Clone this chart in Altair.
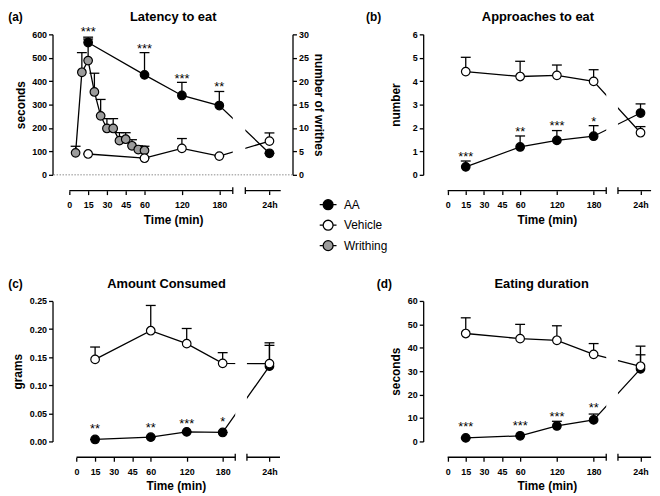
import altair as alt
import pandas as pd

FONT = "Liberation Sans"
H = 142          # plot height of every panel
AX_OFF = 16      # offset of the broken time axis below the plot
TITLE_Y = -17.5  # vertical position of panel titles relative to plot top

# ---------------- data ----------------
H24 = 260                                   # position of the "24h" sample on the broken axis
times = [15, 60, 120, 180, H24]
star_times = [15, 60, 120, 180]
x_tick_values = [0, 15, 30, 45, 60, 120, 180, H24]
x_tick_24h_label = "24h"
seg_start = [0, 221.5]
seg_end = [201.5, 278]
breaks = [201.5, 221.5]
groups = ["AA", "Vehicle", "Writhing"]
group_fill = ["black", "white", "#9c9c9c"]

# (a) Latency to eat (seconds) + writhes
lat_aa = [565, 427, 339, 296, 92]
lat_aa_up = [588, 522, 395, 356, 92]
lat_veh = [89, 71, 113, 80, 144]
lat_veh_up = [89, 71, 155, 80, 179]
lat_stars = ["***", "***", "***", "**"]
lat_star_y = [621, 551, 421, 388]
writhe_time = [5, 10, 15, 20, 25, 30, 35, 40, 45, 50, 55, 60]
writhe_mean = [4.7, 21.9, 24.4, 17.7, 12.6, 9.9, 9.9, 7.3, 7.6, 6.2, 5.4, 5.2]
writhe_up = [6.1, 26.1, 29.0, 21.7, 16.1, 12.0, 12.0, 9.0, 9.0, 7.5, 6.2, 6.1]

# (b) Approaches to eat (number)
app_aa = [0.34, 1.19, 1.47, 1.65, 2.64]
app_aa_up = [0.59, 1.66, 1.89, 2.10, 3.03]
app_veh = [4.41, 4.20, 4.25, 3.99, 1.80]
app_veh_up = [5.02, 4.85, 4.69, 4.49, 2.06]
app_stars = ["***", "**", "***", "*"]
app_star_y = [0.9, 1.96, 2.2, 2.38]

# (c) Amount consumed (grams)
amt_aa = [0.0035, 0.0076, 0.017, 0.016, 0.134]
amt_aa_up = [0.0035, 0.0076, 0.017, 0.016, 0.171]
amt_veh = [0.146, 0.197, 0.174, 0.139, 0.1385]
amt_veh_up = [0.168, 0.242, 0.201, 0.158, 0.1755]
amt_stars = ["**", "**", "***", "*"]
amt_star_y = [0.027, 0.030, 0.037, 0.039]

# (d) Eating duration (seconds)
dur_aa = [1.5, 2.4, 6.6, 9.2, 31.0]
dur_aa_up = [1.5, 2.4, 8.6, 11.7, 37.0]
dur_veh = [46.1, 43.9, 43.2, 37.2, 32.1]
dur_veh_up = [52.8, 50.0, 49.4, 41.8, 40.7]
dur_stars = ["***", "***", "***", "**"]
dur_star_y = [7.6, 7.9, 11.8, 15.4]

LEGEND_SYMBOL = ("M-0.85,0L-0.5,0M0.5,0L0.85,0"
                 "M-0.5,0A0.5,0.5,0,1,0,0.5,0A0.5,0.5,0,1,0,-0.5,0Z")


def yax(orient, vals, fmt, title, tpad):
    return alt.Axis(orient=orient, values=vals, format=fmt, title=title, grid=False,
                    domainColor="black", domainWidth=1.3, tickColor="black",
                    tickWidth=1.3, tickSize=4, labelFont=FONT, labelFontSize=9,
                    labelFontWeight="bold", labelColor="black", labelPadding=2,
                    titleFont=FONT, titleFontSize=12, titleFontWeight="bold",
                    titleColor="black", titlePadding=tpad)


def build(letter, letter_x, title, title_x, ylab, ytpad, ydom, yvals, yfmt, W, xr, xtitle_x,
          aa, aa_up, veh, veh_up, stars, star_y, writhe=False, legend=None):
    xs = alt.Scale(domain=[0, 60, 180, H24], range=xr, nice=False, zero=False)
    xaxis = alt.Axis(values=x_tick_values,
                     labelExpr=f"datum.value == {H24} ? '{x_tick_24h_label}' : datum.label",
                     domain=False, grid=False, offset=AX_OFF, ticks=True,
                     tickColor="black", tickWidth=1.3, tickSize=4,
                     labelFont=FONT, labelFontSize=9, labelFontWeight="bold",
                     labelColor="black", labelPadding=6, labelOverlap=False,
                     labelFlush=False, title="Time (min)", titleFont=FONT,
                     titleFontSize=12, titleFontWeight="bold", titleColor="black",
                     titlePadding=5, titleX=xtitle_x)
    ys = alt.Scale(domain=ydom, nice=False, zero=False)
    yaxis = yax("left", yvals, yfmt, ylab, ytpad)

    def X(f):
        return alt.X(f, type="quantitative", scale=xs, axis=xaxis)

    def Y(f):
        return alt.Y(f, type="quantitative", scale=ys, axis=yaxis)

    fill = alt.Fill("group:N", scale=alt.Scale(domain=groups, range=group_fill),
                    legend=legend)
    df = pd.DataFrame({"time": times * 2, "group": ["AA"] * 5 + ["Vehicle"] * 5,
                       "mean": aa + veh, "upper": aa_up + veh_up})

    lines = alt.Chart(df).mark_line(color="black", strokeWidth=1.3).encode(
        x=X("time"), y=Y("mean"), detail="group:N")
    gap = alt.Chart(pd.DataFrame({"b1": [breaks[0]], "b2": [breaks[1]]})).mark_rect(
        color="white", opacity=1).encode(x=X("b1"), x2="b2", y=alt.value(0), y2=alt.value(H))
    err = alt.Chart(df).mark_rule(color="black", strokeWidth=1.3).encode(
        x=X("time"), y=Y("mean"), y2="upper")
    cap = alt.Chart(df).mark_tick(color="black", orient="horizontal", size=10,
                                  thickness=1.3, opacity=1).encode(x=X("time"), y=Y("upper"))
    pts = alt.Chart(df).mark_circle(size=75, stroke="black", strokeWidth=1.2,
                                    opacity=1).encode(x=X("time"), y=Y("mean"), fill=fill)
    sdf = pd.DataFrame({"time": star_times, "s": stars, "y": star_y})
    st = alt.Chart(sdf).mark_text(fontSize=13, font=FONT, baseline="alphabetic", dy=7,
                                  color="black").encode(x=X("time"), y=Y("y"), text="s:N")
    seg = alt.Chart(pd.DataFrame({"s": seg_start, "e": seg_end})).mark_rule(
        color="black", strokeWidth=1.3).encode(x=X("s"), x2="e", y=alt.value(H + AX_OFF))
    brk = alt.Chart(pd.DataFrame({"b": breaks})).mark_rule(
        color="black", strokeWidth=1.3).encode(
        x=X("b"), y=alt.value(H + AX_OFF - 3.5), y2=alt.value(H + AX_OFF + 3.5))
    ttl = alt.Chart(pd.DataFrame({"t": [title]})).mark_text(
        font=FONT, fontSize=13, fontWeight="bold", align="center", baseline="middle",
        color="black").encode(x=alt.value(title_x), y=alt.value(TITLE_Y), text="t:N")
    let = alt.Chart(pd.DataFrame({"t": [letter]})).mark_text(
        font=FONT, fontSize=12, fontWeight="bold", align="left", baseline="middle",
        color="black").encode(x=alt.value(letter_x), y=alt.value(TITLE_Y), text="t:N")

    main_layers = [lines, gap]
    if writhe:
        zero = alt.Chart(pd.DataFrame({"z": [0]})).mark_rule(
            color="#8c8c8c", strokeDash=[1.5, 1.5], strokeWidth=1).encode(y=Y("z"))
        main_layers.append(zero)
    main_layers += [err, cap, pts, st, seg, brk, ttl, let]
    main = alt.layer(*main_layers)

    if writhe:
        wys = alt.Scale(domain=[0, 30], nice=False, zero=False)
        wax = yax("right", [0, 5, 10, 15, 20, 25, 30], "d", "number of writhes", 3)

        def WY(f):
            return alt.Y(f, type="quantitative", scale=wys, axis=wax)

        wdf = pd.DataFrame({"time": writhe_time, "group": ["Writhing"] * len(writhe_time),
                            "mean": writhe_mean, "upper": writhe_up})
        wl = alt.Chart(wdf).mark_line(color="black", strokeWidth=1.3).encode(
            x=X("time"), y=WY("mean"))
        we = alt.Chart(wdf).mark_rule(color="black", strokeWidth=1.3).encode(
            x=X("time"), y=WY("mean"), y2="upper")
        wc = alt.Chart(wdf).mark_tick(color="black", orient="horizontal", size=10,
                                      thickness=1.3, opacity=1).encode(x=X("time"), y=WY("upper"))
        wp = alt.Chart(wdf).mark_circle(size=75, stroke="black", strokeWidth=1.2,
                                        opacity=1).encode(x=X("time"), y=WY("mean"), fill=fill)
        chart = alt.layer(alt.layer(wl, we, wc, wp), main).resolve_scale(y="independent")
    else:
        chart = main
    return chart.properties(width=W, height=H)


legend = alt.Legend(orient="none", legendX=267.6, legendY=161.2, title=None,
                    symbolType=LEGEND_SYMBOL, symbolSize=400, symbolStrokeColor="black",
                    symbolStrokeWidth=1.3, symbolOpacity=1, labelFont=FONT,
                    labelFontSize=12, labelColor="black", labelOffset=5, rowPadding=1.7,
                    padding=0, labelLimit=200)

pa = build("(a)", -44.7, "Latency to eat", 122, "seconds", 4, [0, 600],
           [0, 100, 200, 300, 400, 500, 600], "d", 242.6, [17.0, 93.0, 168.6, 219.3], 122,
           lat_aa, lat_aa_up, lat_veh, lat_veh_up, lat_stars, lat_star_y,
           writhe=True, legend=legend)
pb = build("(b)", -57.7, "Approaches to eat", 116, "number", 10, [0, 6],
           [0, 1, 2, 3, 4, 5, 6], "d", 228, [24.7, 98.0, 172.3, 219.7], 125,
           app_aa, app_aa_up, app_veh, app_veh_up, app_stars, app_star_y)
pc = build("(c)", -44.7, "Amount Consumed", 115.3, "grams", 5, [0, 0.25],
           [0, 0.05, 0.10, 0.15, 0.20, 0.25], ".2f", 231, [24.3, 99.3, 172.0, 219.3], 124.6,
           amt_aa, amt_aa_up, amt_veh, amt_veh_up, amt_stars, amt_star_y)
pd_ = build("(d)", -47.0, "Eating duration", 119.7, "seconds", 5, [0, 60],
            [0, 10, 20, 30, 40, 50, 60], "d", 228, [24.7, 98.0, 172.3, 219.7], 125,
            dur_aa, dur_aa_up, dur_veh, dur_veh_up, dur_stars, dur_star_y)

chart = alt.concat(pa, pb, pc, pd_, columns=2,
                   spacing={"row": 127.5, "column": 131.7}, bounds="flush")
chart = chart.resolve_scale(fill="independent").properties(padding=0)
chart = chart.configure(font=FONT).configure_view(stroke=None)

chart.save("out.html", embed_options={"renderer": "svg", "actions": False})
